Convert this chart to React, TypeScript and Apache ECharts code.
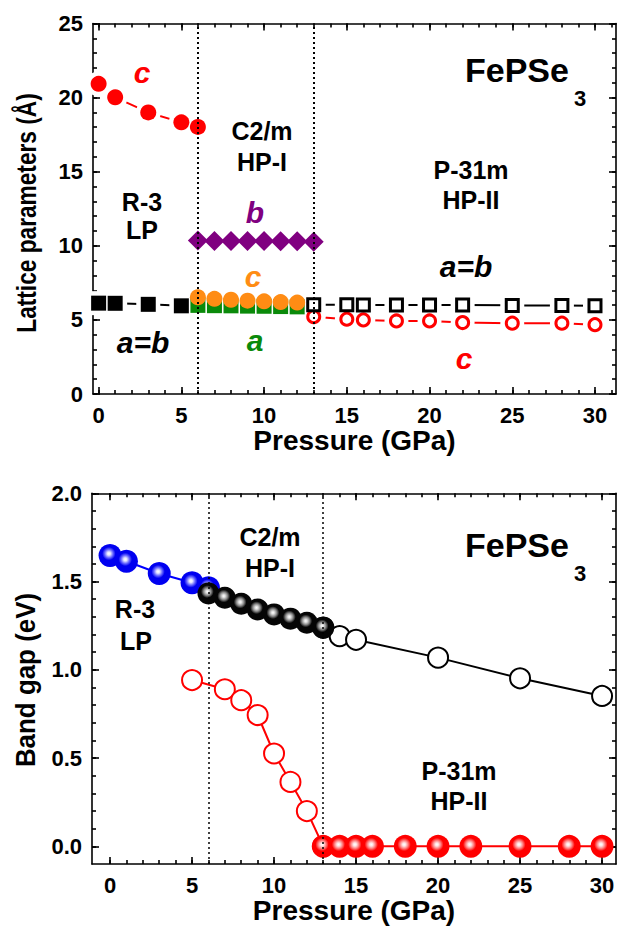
import React, { useEffect, useRef } from 'react';
import * as echarts from 'echarts';

const FONT = '"Liberation Sans", Arial, Helvetica, sans-serif';

// ---------------- Top panel: lattice parameters ----------------
const pR3 = [0, 1, 3, 5, 6];
const cR3 = [20.93, 20.02, 19.0, 18.33, 18.02];
const pR3ab = [0, 1, 3, 5];
const abR3 = [6.13, 6.12, 6.05, 5.95];
const pHP1b = [6, 7, 8, 9, 10, 11, 12, 13];
const bHP1 = [10.35, 10.33, 10.33, 10.32, 10.32, 10.3, 10.3, 10.28];
const pHP1ac = [6, 7, 8, 9, 10, 11, 12];
const cHP1 = [6.53, 6.42, 6.36, 6.3, 6.25, 6.2, 6.17];
const aHP1 = [5.98, 5.96, 5.95, 5.93, 5.92, 5.9, 5.88];
const pHP2 = [13, 15, 16, 18, 20, 22, 25, 28, 30];
const abHP2 = [6.02, 6.02, 6.01, 6.0, 6.0, 6.0, 5.98, 5.97, 5.95];
const cHP2 = [5.22, 5.05, 5.0, 4.93, 4.93, 4.82, 4.78, 4.78, 4.68];

// ---------------- Bottom panel: band gap ----------------
const pBlue = [0, 1, 3, 5, 6];
const gBlue = [1.648, 1.615, 1.546, 1.493, 1.465];
const pBlack = [6, 7, 8, 9, 10, 11, 12, 13];
const gBlack = [1.433, 1.408, 1.374, 1.342, 1.314, 1.29, 1.267, 1.239];
const pOpenBlack = [13, 14, 15, 20, 25, 30];
const gOpenBlack = [1.239, 1.191, 1.17, 1.069, 0.952, 0.852];
const pOpenRed = [5, 7, 8, 9, 10, 11, 12, 13];
const gOpenRed = [0.942, 0.89, 0.828, 0.744, 0.526, 0.365, 0.2, 0.0];
const pRed = [13, 14, 15, 16, 18, 20, 22, 25, 28, 30];
const gRed = [0, 0, 0, 0, 0, 0, 0, 0, 0, 0];

// phase boundaries (GPa)
const boundaries = [6, 13];

// ---------------- ticks ----------------
const xMajor = [0, 5, 10, 15, 20, 25, 30];
const xMinor = [0, 1, 2, 3, 4, 5, 6, 7, 8, 9, 10, 11, 12, 13, 14, 15, 16, 17, 18, 19, 20, 21, 22, 23, 24, 25, 26, 27, 28, 29, 30, 31];
const yTopMajor = [0, 5, 10, 15, 20, 25];
const yTopMinor = [0, 1, 2, 3, 4, 5, 6, 7, 8, 9, 10, 11, 12, 13, 14, 15, 16, 17, 18, 19, 20, 21, 22, 23, 24, 25];
const yBotMajor = [0, 0.5, 1.0, 1.5, 2.0];
const yBotMinor = [0, 0.1, 0.2, 0.3, 0.4, 0.5, 0.6, 0.7, 0.8, 0.9, 1.0, 1.1, 1.2, 1.3, 1.4, 1.5, 1.6, 1.7, 1.8, 1.9, 2.0];

const zip = (xs: number[], ys: number[]) => xs.map((x, i) => [x, ys[i]]);

const labelStyle = { color: '#000', fontSize: 22, fontWeight: 'bold', fontFamily: FONT };
const axLine = { color: '#000', width: 1.6 };

function axisSet(
  dim: 'x' | 'y',
  grid: number,
  min: number,
  max: number,
  major: number[],
  minor: number[],
  name: string,
  nameGap: number,
  nameSize: number,
  fmt: (v: number) => string,
) {
  const [p1, p2] = dim === 'x' ? ['bottom', 'top'] : ['left', 'right'];
  const base: any = {
    type: 'value',
    gridIndex: grid,
    min,
    max,
    splitLine: { show: false },
    axisLabel: { show: false },
    axisLine: { show: false, onZero: false },
  };
  const majTick = { show: true, inside: true, length: 7, customValues: major, lineStyle: axLine };
  const minTick = { show: true, inside: true, length: 4, customValues: minor, lineStyle: axLine };
  const main: any = {
    ...base,
    position: p1,
    axisLine: { show: true, onZero: false, lineStyle: axLine },
    axisTick: majTick,
    axisLabel: { show: true, customValues: major, margin: 10, formatter: fmt, ...labelStyle },
  };
  if (name) {
    main.name = name;
    main.nameLocation = 'middle';
    main.nameGap = nameGap;
    main.nameTextStyle = { color: '#000', fontSize: nameSize, fontWeight: 'bold', fontFamily: FONT };
  }
  return [
    main,
    { ...base, position: p1, axisTick: minTick },
    { ...base, position: p2, axisLine: { show: true, onZero: false, lineStyle: axLine }, axisTick: majTick },
    { ...base, position: p2, axisTick: minTick },
  ];
}

function sphere(c0: string, c1: string, c2: string) {
  return {
    type: 'radial',
    x: 0.45,
    y: 0.42,
    r: 0.58,
    colorStops: [
      { offset: 0, color: '#ffffff' },
      { offset: 0.12, color: c0 },
      { offset: 0.3, color: c1 },
      { offset: 0.5, color: c2 },
      { offset: 1, color: c2 },
    ],
  };
}

function text(t: string, x: number, y: number, size: number, color: string, italic = false, align = 'center', extra: any = {}) {
  return {
    type: 'text',
    x,
    y,
    z: 100,
    ...extra,
    style: {
      text: t,
      fill: color,
      fontSize: size,
      fontWeight: 'bold',
      fontStyle: italic ? 'italic' : 'normal',
      fontFamily: FONT,
      align,
      verticalAlign: 'middle',
    },
  };
}

export default function App() {
  const ref = useRef<HTMLDivElement>(null);

  useEffect(() => {
    if (!ref.current) return;
    const chart = echarts.init(ref.current, null, { renderer: 'svg' });

    type TopDef = { x: number[]; y: number[]; symbol: string; size: number; fill: string; border?: string; line?: string };
    const topDefs: TopDef[] = [
      { x: pHP1ac, y: aHP1, symbol: 'rect', size: 15, fill: '#0a8a0a' },
      { x: pHP1ac, y: cHP1, symbol: 'circle', size: 16, fill: '#ff8c14' },
      { x: pHP1b, y: bHP1, symbol: 'diamond', size: 20, fill: '#800080' },
      { x: pR3, y: cR3, symbol: 'circle', size: 16, fill: '#ff0000', line: '#ff0000' },
      { x: pR3ab, y: abR3, symbol: 'rect', size: 15, fill: '#000000', line: '#000000' },
      { x: pHP2, y: cHP2, symbol: 'circle', size: 12, fill: '#ffffff', border: '#ff0000', line: '#ff0000' },
      { x: pHP2, y: abHP2, symbol: 'rect', size: 12, fill: '#ffffff', border: '#000000', line: '#000000' },
    ];

    const topLines = topDefs
      .filter((d) => d.line)
      .map((d) => ({
        type: 'line',
        z: 1,
        xAxisIndex: 0,
        yAxisIndex: 0,
        data: zip(d.x, d.y),
        showSymbol: false,
        symbol: 'none',
        lineStyle: { color: d.line, width: 2 },
        silent: true,
      }));
    const topHalos = topDefs
      .filter((d) => d.line)
      .map((d) => ({
        type: 'scatter',
        z: 2,
        xAxisIndex: 0,
        yAxisIndex: 0,
        data: zip(d.x, d.y),
        symbol: d.symbol,
        symbolSize: d.size + (d.border ? 3 : 0) + 9,
        itemStyle: { color: '#ffffff', opacity: 1 },
        silent: true,
      }));
    const topMarks = topDefs.map((d) => ({
      type: 'scatter',
      z: 3,
      xAxisIndex: 0,
      yAxisIndex: 0,
      data: zip(d.x, d.y),
      symbol: d.symbol,
      symbolSize: d.size,
      itemStyle: d.border
        ? { color: d.fill, borderColor: d.border, borderWidth: 3, opacity: 1 }
        : { color: d.fill, opacity: 1 },
      silent: true,
    }));

    const bottomSeries = [
      {
        type: 'line',
        z: 3,
        xAxisIndex: 4,
        yAxisIndex: 4,
        data: zip(pOpenRed, gOpenRed),
        symbol: 'circle',
        symbolSize: 20,
        lineStyle: { color: '#ff0000', width: 2 },
        itemStyle: { color: '#ffffff', borderColor: '#ff0000', borderWidth: 2, opacity: 1 },
      },
      {
        type: 'line',
        z: 3,
        xAxisIndex: 4,
        yAxisIndex: 4,
        data: zip(pRed, gRed),
        symbol: 'circle',
        symbolSize: 23,
        lineStyle: { color: '#ff0000', width: 2 },
        itemStyle: { color: sphere('#ffe4e4', '#ff8080', '#ff0000'), opacity: 1 },
      },
      {
        type: 'line',
        z: 3,
        xAxisIndex: 4,
        yAxisIndex: 4,
        data: zip(pOpenBlack, gOpenBlack),
        symbol: 'circle',
        symbolSize: 20,
        lineStyle: { color: '#000000', width: 2 },
        itemStyle: { color: '#ffffff', borderColor: '#000000', borderWidth: 2, opacity: 1 },
      },
      {
        type: 'line',
        z: 3,
        xAxisIndex: 4,
        yAxisIndex: 4,
        data: zip(pBlue, gBlue),
        symbol: 'circle',
        symbolSize: 23,
        lineStyle: { color: '#0000ff', width: 2 },
        itemStyle: { color: sphere('#e6e6ff', '#7070ff', '#0000f0'), opacity: 1 },
      },
      {
        type: 'line',
        z: 3,
        xAxisIndex: 4,
        yAxisIndex: 4,
        data: zip(pBlack, gBlack),
        symbol: 'circle',
        symbolSize: 22,
        lineStyle: { color: '#000000', width: 2 },
        itemStyle: { color: sphere('#dddddd', '#858585', '#050505'), opacity: 1 },
      },
    ];

    const boundarySeries = (xi: number, yi: number, w: number) => ({
      type: 'line',
      z: 5,
      xAxisIndex: xi,
      yAxisIndex: yi,
      data: [],
      silent: true,
      markLine: {
        silent: true,
        symbol: 'none',
        label: { show: false },
        animation: false,
        z: 5,
        lineStyle: { color: '#000', width: w, type: [2, 3] },
        data: boundaries.map((b) => ({ xAxis: b })),
      },
    });

    const option: any = {
      animation: false,
      backgroundColor: '#ffffff',
      grid: [
        { left: 93, top: 23.5, width: 523, height: 370.5 },
        { left: 92, top: 493.3, width: 524, height: 370.7 },
      ],
      xAxis: [
        ...axisSet('x', 0, -0.34, 31.27, xMajor, xMinor, 'Pressure (GPa)', 31, 28, (v) => String(v)),
        ...axisSet('x', 1, -1.1, 30.85, xMajor, xMinor, 'Pressure (GPa)', 31, 28, (v) => String(v)),
      ],
      yAxis: [
        ...axisSet('y', 0, 0, 25, yTopMajor, yTopMinor, '', 0, 0, (v) => String(v)),
        ...axisSet('y', 1, -0.1, 2.0, yBotMajor, yBotMinor, '', 0, 0, (v) => v.toFixed(1)),
      ],
      series: [
        ...topLines,
        ...topHalos,
        ...topMarks,
        boundarySeries(0, 0, 2),
        ...bottomSeries,
        boundarySeries(4, 4, 1.5),
      ],
      graphic: [
        // y-axis titles
        text('Lattice parameters (Å)', 26, 213, 27, '#000', false, 'center', { rotation: Math.PI / 2, scaleX: 0.84 }),
        text('Band gap (eV)', 26, 680, 27, '#000', false, 'center', { rotation: Math.PI / 2, scaleX: 0.96 }),
        // top panel
        text('c', 142, 72, 30, '#ff0000', true),
        text('FePSe', 465, 70, 34, '#000', false, 'left'),
        text('3', 574, 98, 22, '#000', false, 'left'),
        text('C2/m', 262, 131, 25, '#000'),
        text('HP-I', 262, 162, 25, '#000'),
        text('R-3', 142, 202, 25, '#000'),
        text('LP', 142, 230, 25, '#000'),
        text('P-31m', 471, 170, 25, '#000'),
        text('HP-II', 471, 200, 25, '#000'),
        text('b', 255, 212, 30, '#800080', true),
        text('c', 253, 276, 30, '#ff8c14', true),
        text('a=b', 466, 266, 30, '#000', true),
        text('a=b', 143, 342, 30, '#000', true),
        text('a', 255, 340, 30, '#0a8a0a', true),
        text('c', 464, 358, 30, '#ff0000', true),
        // bottom panel
        text('FePSe', 465, 545, 34, '#000', false, 'left'),
        text('3', 574, 573, 22, '#000', false, 'left'),
        text('C2/m', 270, 537, 25, '#000'),
        text('HP-I', 270, 568, 25, '#000'),
        text('R-3', 135, 609, 25, '#000'),
        text('LP', 136, 641, 25, '#000'),
        text('P-31m', 459, 771, 25, '#000'),
        text('HP-II', 459, 801, 25, '#000'),
      ],
    };

    chart.setOption(option);
    return () => chart.dispose();
  }, []);

  return (
    <div
      ref={ref}
      style={{ position: 'absolute', left: 0, top: 0, width: 619, height: 932, background: '#fff' }}
    />
  );
}
